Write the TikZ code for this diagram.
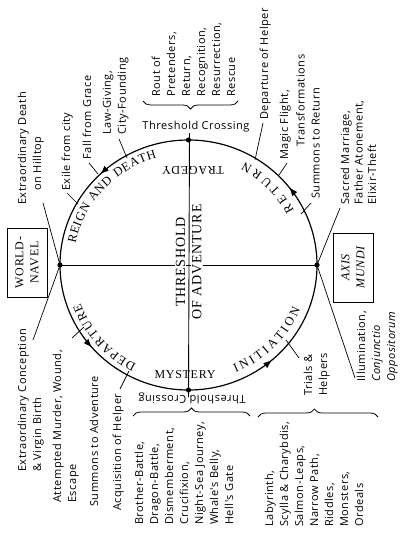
\documentclass[tikz,border=0pt]{standalone}
\usepackage{fontspec}
\setmainfont{Liberation Serif}
\newfontfamily\labfam{Open Sans}[LetterSpace=5]
\newfontfamily\capfam{Liberation Serif}[LetterSpace=6]
\usetikzlibrary{calc,arrows.meta,decorations.text,decorations.markings,decorations.pathreplacing}
\newcommand\arcfnt{\capfam\fontsize{12.5}{14}\selectfont}
\begin{document}
\begin{tikzpicture}[x=1pt,y=-1pt,
 lab/.style={font=\labfam\fontsize{11}{15}\selectfont,rotate=90,anchor=north west,align=left,inner sep=0pt},
 labsm/.style={font=\labfam\fontsize{11}{13.5}\selectfont,rotate=90,anchor=north west,align=left,inner sep=0pt},
 labh/.style={font=\labfam\fontsize{11}{15}\selectfont,inner sep=0pt},
 capbig/.style={font=\capfam\fontsize{14}{16}\selectfont,rotate=90,inner sep=1pt,fill=white},
 capmid/.style={font=\capfam\fontsize{12}{14}\selectfont,inner sep=0pt},
 boxlab/.style={draw,line width=0.8pt,rotate=90,minimum width=69pt,minimum height=40pt,align=center,inner sep=1pt,font=\capfam\fontsize{12}{15}\selectfont},
 thin/.style={line width=0.7pt},
 bracelike/.style={line width=0.8pt,decorate,decoration={brace,amplitude=8pt,aspect=#1}},
 arctext/.style={decorate,decoration={text along path,text align={fit to path},text={#1}}},
 arrowtip/.tip={Latex[length=9pt,width=6.5pt]}
]
\useasboundingbox (0,0) rectangle (402,535);
\fill[white] (0,0) rectangle (402,535);

\coordinate (C) at (188.5,265);
\coordinate (navel) at (60,265);
\coordinate (axis) at (317,265);
\coordinate (ctop) at (188.5,140);
\coordinate (cbot) at (188.5,390);

% main circle with arrows
\draw[line width=1.2pt, postaction={decorate,decoration={markings,
 mark=at position 0.106 with {\arrow{arrowtip}},
 mark=at position 0.372 with {\arrow{arrowtip}},
 mark=at position 0.614 with {\arrow{arrowtip}},
 mark=at position 0.864 with {\arrow{arrowtip}}}}]
 (axis) arc[start angle=0,end angle=360,x radius=128.5pt,y radius=125pt];

% cross
\draw[line width=0.9pt] (navel) -- (axis);
\node[capbig,anchor=south] (thr) at (186.5,262) {THRESHOLD};
\node[capbig,anchor=north] (adv) at (191,262) {OF ADVENTURE};
\coordinate (vtop) at (189.5,133);
\coordinate (vbot) at (188.5,397);
\draw[line width=0.9pt] (vtop) -- (vbot);
\foreach \p in {navel,axis,ctop,cbot} \fill (\p) circle[radius=2.6pt];

% arc texts
\path[arctext={|\arcfnt|REIGN AND DEATH}] ($(C)+(169:115pt and 111.5pt)$) arc[start angle=169,end angle=106,x radius=115pt,y radius=111.5pt];
\path[arctext={|\arcfnt|DEPARTURE}] ($(C)+(243:115pt and 111.5pt)$) arc[start angle=243,end angle=200,x radius=115pt,y radius=111.5pt];
\path[arctext={|\arcfnt|RETURN}] ($(C)+(28:119.5pt and 116pt)$) arc[start angle=28,end angle=62,x radius=119.5pt,y radius=116pt];
\path[arctext={|\arcfnt|INITIATION}] ($(C)+(293:120.5pt and 117pt)$) arc[start angle=293,end angle=338,x radius=120.5pt,y radius=117pt];

\node[capmid,rotate=180] (trag) at (193,170) {TRAGEDY};
\node[capmid] (myst) at (185,375) {MYSTERY};
\node[labh] (tctop) at (196,127) {Threshold Crossing};
\node[labh,rotate=180] (tcbot) at (192,398) {Threshold Crossing};

% boxes
\node[boxlab] (wnbox) at (27,262.5) {WORLD-\\NAVEL};
\node[boxlab,font=\capfam\itshape\fontsize{12}{15}\selectfont] (ambox) at (353,267.5) {AXIS\\MUNDI};

% leaders
\coordinate (lA) at (43,203);
\coordinate (lB) at (33,340);
\coordinate (lC) at (340,208);
\coordinate (lD) at (355,378);
\draw[thin] (lA) -- (navel);
\draw[thin] (navel) -- (lB);
\draw[thin] (lC) -- (axis);
\draw[thin] (axis) -- (lD);

% ticks
\draw[thin] (67,193) coordinate (t1a) -- (78,204) coordinate (t1b);
\draw[thin] (89,163) coordinate (t2a) -- (98,174) coordinate (t2b);
\draw[thin] (119,139) coordinate (t3a) -- (127,158) coordinate (t3b);
\draw[thin] (263,123) coordinate (t4a) -- (255,160) coordinate (t4b);
\draw[thin] (287,163) coordinate (t5a) -- (279,175) coordinate (t5b);
\draw[thin] (311,203) coordinate (t6a) -- (301,214) coordinate (t6b);
\draw[thin] (72,338) coordinate (t7a) -- (84,327) coordinate (t7b);
\draw[thin] (120,389) coordinate (t8a) -- (129,371) coordinate (t8b);
\draw[thin] (286,340) coordinate (t9a) -- (299,358) coordinate (t9b);

% braces
\draw[bracelike=0.5] (238,101) coordinate (b1a) -- (143,101) coordinate (b1b);
\draw[bracelike=0.5] (133,416) coordinate (b2a) -- (250,416) coordinate (b2b);
\draw[bracelike=0.47] (258,417) coordinate (b3a) -- (378,417) coordinate (b3b);

% labels
\node[lab] (xdeath) at (17.5,205) {Extraordinary Death\\\hspace*{14pt}on Hilltop};
\node[lab] (exile) at (61.5,191) {Exile from city};
\node[lab] (fall) at (82.5,160) {Fall from Grace};
\node[lab] (law) at (102.5,135) {Law-Giving,\\City-Founding};
\node[lab] (rout) at (151.5,97) {Rout of\\Pretenders,\\Return,\\Recognition,\\Resurrection,\\Rescue};
\node[lab] (dephelp) at (259.5,120) {Departure of Helper};
\node[lab,font=\labfam\fontsize{11}{16.5}\selectfont] (magic) at (279.5,160) {Magic Flight,\\\hspace*{13pt}Transformations};
\node[lab] (sumret) at (311.5,199) {Summons to Return};
\node[labsm] (sacred) at (340.5,205) {Sacred Marriage,\\Father Atonement,\\Elixir-Theft};
\node[lab] (illum) at (356.5,382) {Illumination,\\\textit{Conjunctio}\\\textit{Oppositorum}};
\node[lab] (trials) at (303.5,396) {Trials \&\\Helpers};
\node[lab] (laby) at (264.5,527) {Labyrinth,\\Scylla \& Charybdis,\\Salmon-Leaps,\\Narrow Path,\\Riddles,\\Monsters,\\Ordeals};
\node[lab] (brother) at (134.5,525) {Brother-Battle,\\Dragon-Battle,\\Dismemberment,\\Crucifixion,\\Night-Sea Journey,\\Whale's Belly,\\Hell's Gate};
\node[lab] (acq) at (112.5,511) {Acquisition of Helper};
\node[lab] (sumadv) at (89.5,507) {Summons to Adventure};
\node[lab] (murder) at (52.5,503) {Attempted Murder, Wound,\\Escape};
\node[lab] (xconc) at (17.5,472) {Extraordinary Conception\\\& Virgin Birth};
\end{tikzpicture}
\end{document}
